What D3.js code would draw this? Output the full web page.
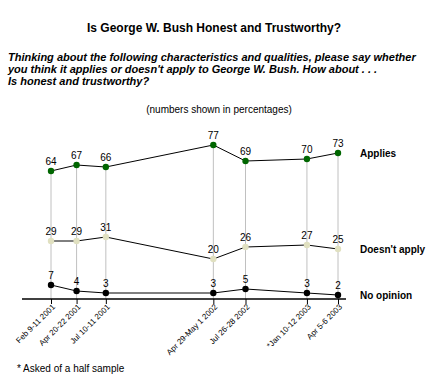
<!DOCTYPE html>
<html>
<head>
<meta charset="utf-8">
<script src="https://cdn.jsdelivr.net/npm/d3@7"></script>
<style>
  body { margin: 0; background: #fff; }
  text { font-family: 'Liberation Sans', Arial, sans-serif; }
</style>
</head>
<body>
<div id="chart"></div>
<script>
const dates = ['2001-02-10', '2001-04-21', '2001-07-10', '2002-04-30', '2002-07-27', '2003-01-11', '2003-04-06']
const tickLabels = ['Feb 9-11 2001', 'Apr 20-22 2001', 'Jul 10-11 2001', 'Apr 29-May 1 2002', 'Jul 26-28 2002', '*Jan 10-12 2003', 'Apr 5-6 2003']
const applies = [64, 67, 66, 77, 69, 70, 73]
const doesntApply = [29, 29, 31, 20, 26, 27, 25]
const noOpinion = [7, 4, 3, 3, 5, 3, 2]
const seriesNames = ['Applies', "Doesn't apply", 'No opinion']

const width = 440
const height = 380

const svg = d3
  .select('#chart')
  .append('svg')
  .attr('width', width)
  .attr('height', height)

const parseDate = d3.utcParse('%Y-%m-%d')
const dateValues = dates.map(parseDate)

const xPositionScale = d3
  .scaleUtc()
  .domain(d3.extent(dateValues))
  .range([51, 338])
const yPositionScale = d3.scaleLinear().domain([0, 100]).range([299, 99])

const series = [
  { name: seriesNames[0], values: applies, color: '#006600' },
  { name: seriesNames[1], values: doesntApply, color: '#e0e0c0' },
  { name: seriesNames[2], values: noOpinion, color: '#000000' }
]

// titles
svg
  .append('text')
  .attr('x', 214)
  .attr('y', 32)
  .attr('text-anchor', 'middle')
  .attr('font-size', 12)
  .attr('font-weight', 'bold')
  .text('Is George W. Bush Honest and Trustworthy?')

const question = [
  'Thinking about the following characteristics and qualities, please say whether',
  "you think it applies or doesn't apply to George W. Bush. How about . . .",
  'Is honest and trustworthy?'
]
svg
  .selectAll('.question')
  .data(question)
  .enter()
  .append('text')
  .attr('class', 'question')
  .attr('x', 8)
  .attr('y', (d, i) => 61 + i * 12)
  .attr('font-size', 11)
  .attr('font-weight', 'bold')
  .attr('font-style', 'italic')
  .text(d => d)

svg
  .append('text')
  .attr('x', 219)
  .attr('y', 113)
  .attr('text-anchor', 'middle')
  .attr('font-size', 10)
  .text('(numbers shown in percentages)')

// grey drop lines
svg
  .selectAll('.drop')
  .data(dateValues)
  .enter()
  .append('line')
  .attr('class', 'drop')
  .attr('x1', d => xPositionScale(d))
  .attr('x2', d => xPositionScale(d))
  .attr('y1', (d, i) => yPositionScale(applies[i]))
  .attr('y2', yPositionScale(0))
  .attr('stroke', '#c0c0c0')
  .attr('stroke-width', 1)

// x axis
const xAxis = d3
  .axisBottom(xPositionScale)
  .tickValues(dateValues)
  .tickFormat((d, i) => tickLabels[i])
  .tickSize(5)
  .tickSizeOuter(0)

const axisG = svg
  .append('g')
  .attr('class', 'axis x-axis')
  .attr('transform', 'translate(0,' + yPositionScale(0) + ')')
  .call(xAxis)

axisG.select('.domain').remove()
axisG.selectAll('.tick line').attr('stroke', '#000')
axisG
  .selectAll('.tick text')
  .attr('font-size', 8)
  .attr('font-family', "'Liberation Sans', Arial, sans-serif")
  .attr('fill', '#000')
  .attr('text-anchor', 'end')
  .attr('transform', 'rotate(-45)')
  .attr('x', -3)
  .attr('y', 6)
  .attr('dy', '0.35em')

const xr = xPositionScale.range()
axisG
  .append('line')
  .attr('x1', xr[0] - 29)
  .attr('x2', xr[1] + 8)
  .attr('y1', 0)
  .attr('y2', 0)
  .attr('stroke', '#000')
  .attr('stroke-width', 1.5)

// lines, dots, labels
const line = d3
  .line()
  .x((d, i) => xPositionScale(dateValues[i]))
  .y(d => yPositionScale(d))

series.forEach(s => {
  svg
    .append('path')
    .attr('d', line(s.values))
    .attr('fill', 'none')
    .attr('stroke', '#000')
    .attr('stroke-width', 1)

  svg
    .selectAll(null)
    .data(s.values)
    .enter()
    .append('circle')
    .attr('cx', (d, i) => xPositionScale(dateValues[i]))
    .attr('cy', d => yPositionScale(d))
    .attr('r', 3.2)
    .attr('fill', s.color)

  svg
    .selectAll(null)
    .data(s.values)
    .enter()
    .append('text')
    .attr('x', (d, i) => xPositionScale(dateValues[i]))
    .attr('y', d => yPositionScale(d) - 6)
    .attr('text-anchor', 'middle')
    .attr('font-size', 10)
    .text(d => d)

  svg
    .append('text')
    .attr('x', 360)
    .attr('y', yPositionScale(s.values[s.values.length - 1]) + 4)
    .attr('font-size', 10)
    .attr('font-weight', 'bold')
    .text(s.name)
})

svg
  .append('text')
  .attr('x', 17)
  .attr('y', 372)
  .attr('font-size', 10)
  .text('* Asked of a half sample')
</script>
</body>
</html>
